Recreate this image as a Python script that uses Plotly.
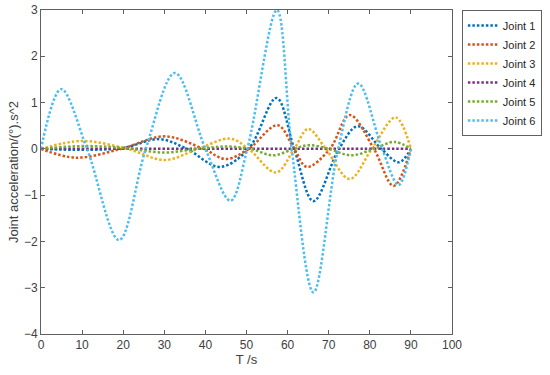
import plotly.graph_objects as go

# Joint 1
t1 = [0, 10, 20, 28.8, 35.5, 43.5, 50.5, 57.3, 61.6, 66.3, 72.5, 77.1, 82.8, 87.1, 90]
y1 = [0, -0.02, 0.02, 0.21, 0, -0.39, 0, 1.10, 0, -1.13, 0, 0.49, 0, -0.29, 0]
# Joint 2
t2 = [0, 8.5, 19.5, 30.1, 39.5, 45.0, 50.5, 57.6, 61.6, 64.7, 70.3, 75.1, 81.0, 85.8, 90]
y2 = [0, -0.19, 0, 0.27, 0, -0.22, 0, 0.51, 0, -0.39, 0, 0.73, 0, -0.80, 0]
# Joint 3
t3 = [0, 10, 21, 30.2, 38.2, 46.0, 50.5, 57.2, 61.6, 65.0, 69.3, 75.1, 80.5, 86.3, 90]
y3 = [0, 0.17, 0, -0.24, 0, 0.22, 0, -0.51, 0, 0.43, 0, -0.65, 0, 0.68, 0]
# Joint 4
t4 = [0, 15, 30, 45, 60, 75, 90]
y4 = [0, 0, 0, 0, 0, 0, 0]
# Joint 5
t5 = [0, 10, 20, 30, 38, 45, 51, 56.5, 61.5, 65.3, 70, 75.5, 81, 86, 90]
y5 = [0, 0.06, 0.02, -0.08, 0, 0.05, 0, -0.14, 0, 0.08, 0, -0.14, 0, 0.15, 0]
# Joint 6
t6 = [0, 4.9, 11.2, 19.0, 25.5, 32.6, 40.0, 46.1, 50.2, 57.4, 61.0, 66.3, 72.3, 77.2, 83.0, 87.0, 90]
y6 = [0, 1.29, 0, -1.97, 0, 1.64, 0, -1.12, 0, 3.0, 0, -3.1, 0, 1.41, 0, -0.78, 0]

names = ["Joint 1", "Joint 2", "Joint 3", "Joint 4", "Joint 5", "Joint 6"]
colors = ["#0072BD", "#D95319", "#EDB120", "#7E2F8E", "#77AC30", "#4DBEEE"]
series = [(t1, y1), (t2, y2), (t3, y3), (t4, y4), (t5, y5), (t6, y6)]

x_ticks = [0, 10, 20, 30, 40, 50, 60, 70, 80, 90, 100]
y_ticks = [-4, -3, -2, -1, 0, 1, 2, 3]

fig = go.Figure()
for (t, y), n, c in zip(series, names, colors):
    fig.add_trace(go.Scatter(
        x=t, y=y, mode="lines", name=n,
        line=dict(color=c, width=2.5, dash="2.5px,2px", shape="spline", smoothing=1.0),
    ))

axis_common = dict(
    showgrid=False, zeroline=False, showline=True, linecolor="#606060", linewidth=1,
    mirror="ticks", ticks="inside", ticklen=4, tickcolor="#606060", automargin=False,
    ticklabeloverflow="allow",
    tickfont=dict(family="Liberation Sans, Arial, sans-serif", size=12, color="#404040"),
)

fig.update_layout(
    width=550, height=375,
    margin=dict(l=41, r=98, t=10, b=41, autoexpand=False),
    plot_bgcolor="white", paper_bgcolor="white",
    font=dict(family="Liberation Sans, Arial, sans-serif", size=12, color="#404040"),
    xaxis=dict(range=[0, 100], tickvals=x_ticks, title=dict(text="T /s", standoff=2,
               font=dict(size=13, color="#404040")), **axis_common),
    yaxis=dict(range=[-4, 3], tickvals=y_ticks, title=dict(text="Joint acceleration/(°).s^2", standoff=2,
               font=dict(size=13, color="#404040")), **axis_common),
    legend=dict(x=1.024, y=1.0, xanchor="left", yanchor="top",
                bordercolor="#606060", borderwidth=1, bgcolor="white",
                font=dict(size=11, color="#262626"), tracegroupgap=0,
                itemwidth=30),
    showlegend=True,
)

fig.write_html("out.html", config={"displayModeBar": False},
               post_script="document.body.style.margin='0';")
